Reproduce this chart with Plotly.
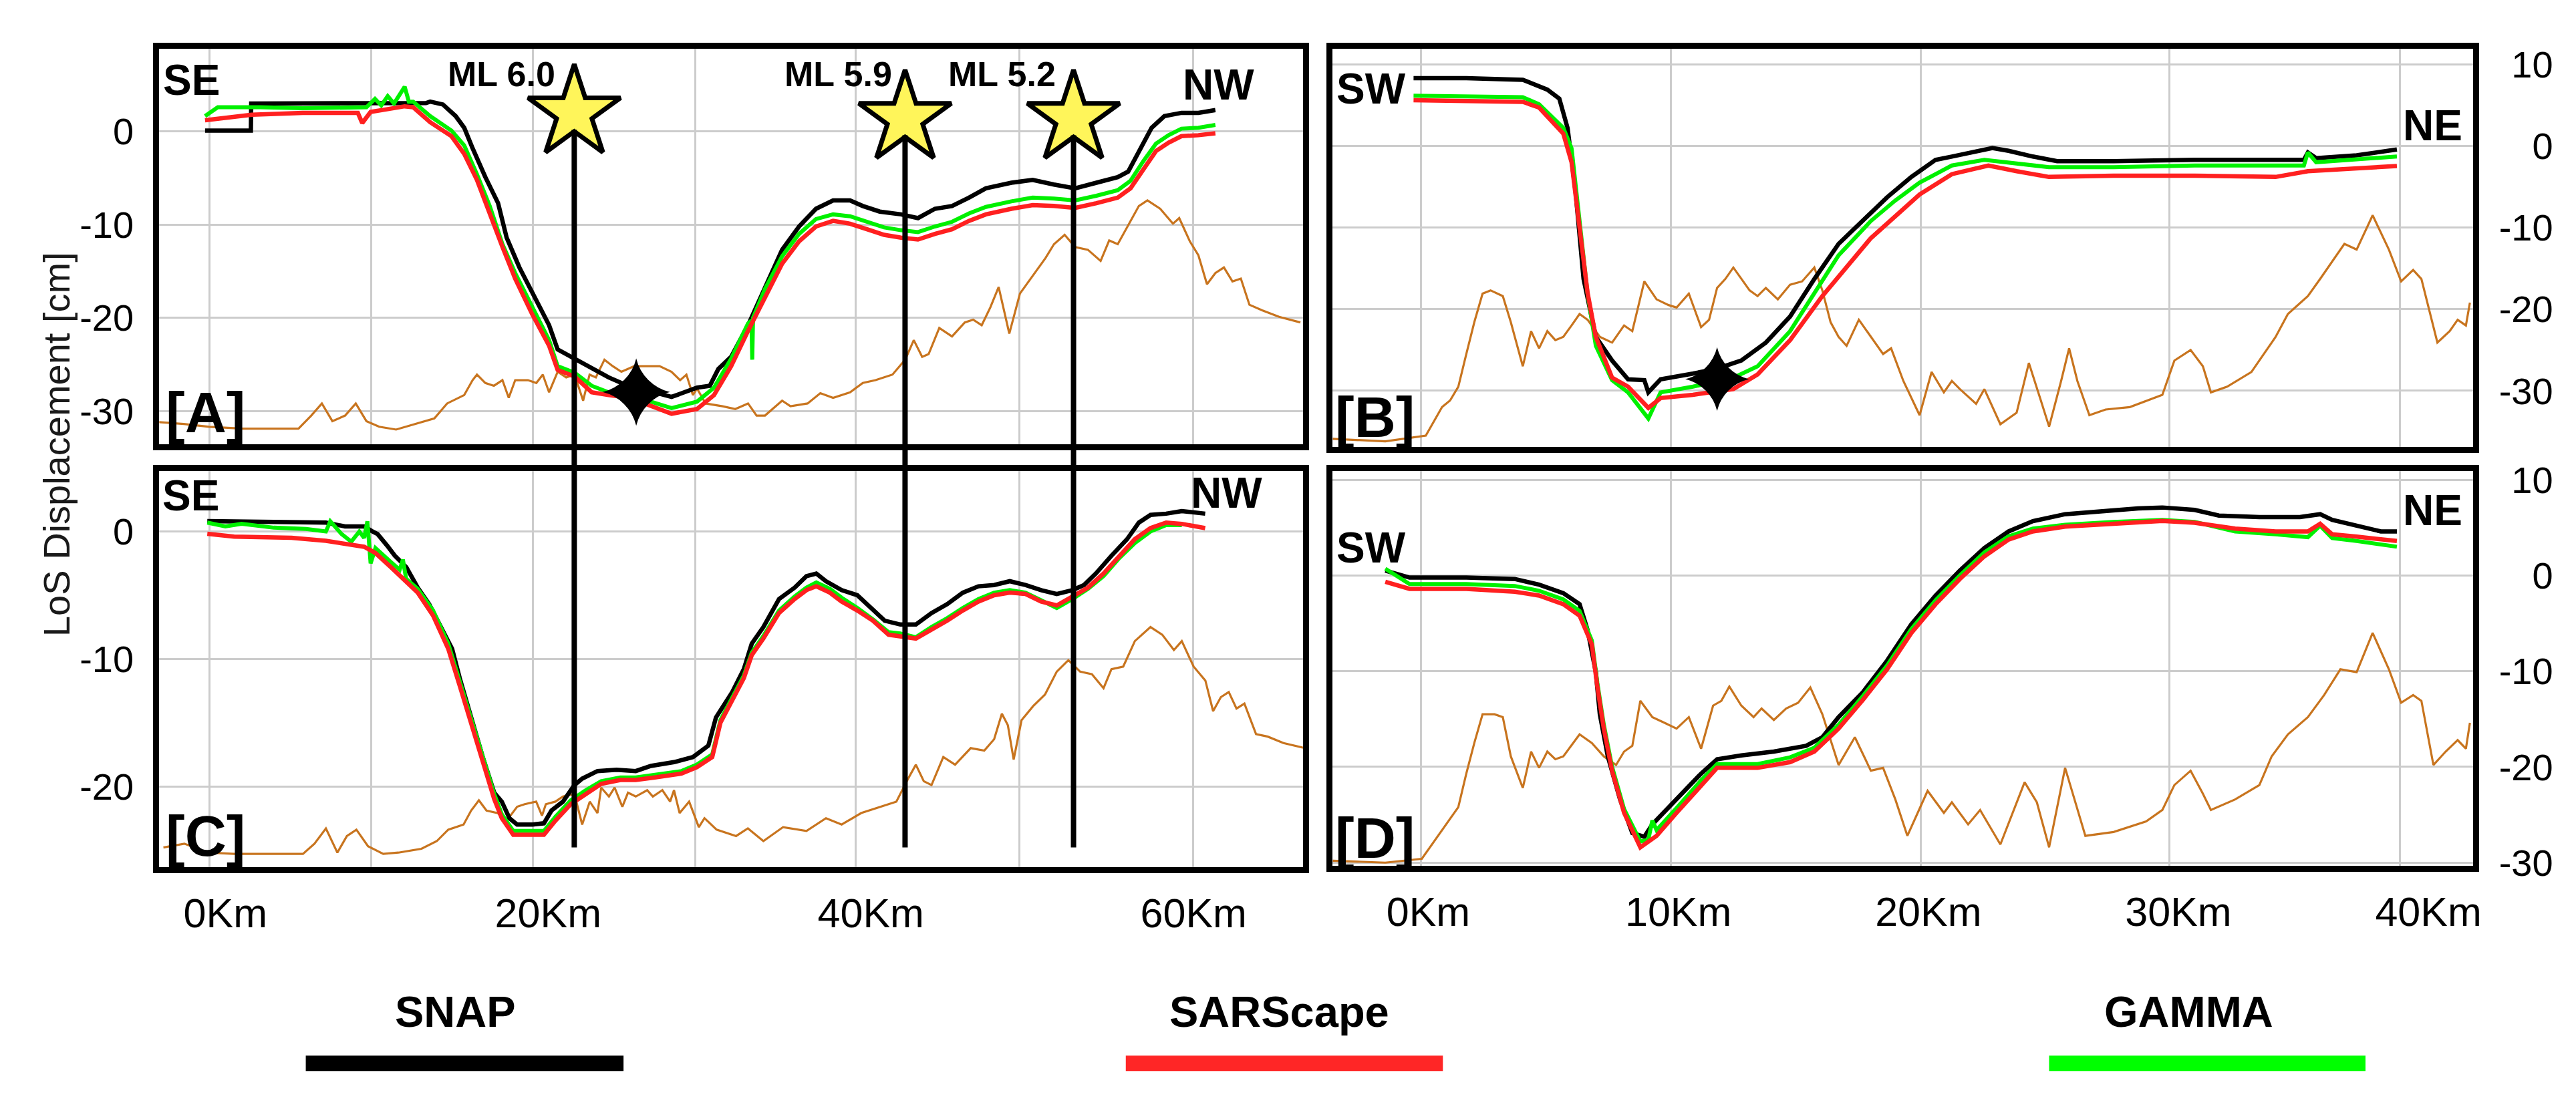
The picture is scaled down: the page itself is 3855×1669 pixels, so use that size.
import plotly.graph_objects as go

W, H = 3855, 1669
FONT = "Liberation Sans, Arial, sans-serif"

SERIES = ["SNAP", "SARScape", "GAMMA"]
SERIES_COLORS = ["#000000", "#ff2020", "#00f000"]
LEGEND_BAR_COLORS = ["#000000", "#ff2626", "#00ff00"]
TOPO_NAME = "Topography"
TOPO_COLOR = "#c8741e"
GRID_COLOR = "#cccccc"

# ---------------- Panel A (km, cm) ----------------
A_SNAP = [(-1.26, 0.1), (1.58, 0.1), (1.60, 3.0), (4.79, 3.0), (8.74, 3.0), (12.43, 3.05), (12.69, 3.2),
          (13.48, 2.9), (14.27, 1.65), (14.80, 0.4), (15.32, -1.8), (16.11, -4.9), (16.90, -7.7),
          (17.43, -11.4), (18.22, -14.6), (19.27, -18.0), (20.06, -20.8), (20.59, -23.4), (21.64, -24.4),
          (22.70, -25.5), (23.75, -26.4), (24.80, -27.2), (27.65, -28.5), (29.23, -27.5), (30.02, -27.3),
          (30.55, -25.5), (31.34, -24.2), (32.39, -20.8), (33.44, -16.7), (34.50, -12.7), (35.55, -10.2),
          (36.60, -8.3), (37.66, -7.4), (38.71, -7.4), (39.50, -8.0), (40.55, -8.6), (41.87, -8.9),
          (42.92, -9.3), (43.97, -8.3), (45.03, -8.0), (46.08, -7.1), (47.13, -6.1), (48.71, -5.5),
          (50.03, -5.2), (51.35, -5.7), (52.66, -6.1), (53.98, -5.5), (55.30, -4.9), (55.95, -4.3),
          (56.61, -2.1), (57.40, 0.4), (58.19, 1.65), (59.25, 2.0), (60.30, 2.0), (61.35, 2.3)]
A_SARSCAPE = [(-1.26, 1.2), (0.05, 1.5), (1.63, 1.8), (4.79, 2.0), (8.21, 2.0), (8.48, 0.9), (9.00, 2.1),
              (10.06, 2.4), (11.11, 2.7), (11.64, 2.6), (12.69, 1.0), (14.01, -0.5), (14.80, -2.4),
              (15.59, -5.2), (16.38, -8.9), (17.17, -12.4), (17.96, -15.8), (19.01, -19.6), (20.06, -23.0),
              (20.59, -25.6), (21.64, -26.3), (22.70, -28.0), (23.75, -28.3), (25.06, -28.6), (27.65, -30.3),
              (29.23, -29.8), (30.28, -28.3), (31.34, -25.2), (32.39, -21.4), (33.44, -17.7), (34.50, -14.2),
              (35.55, -11.8), (36.60, -10.2), (37.66, -9.6), (38.71, -9.9), (39.76, -10.5), (40.82, -11.1),
              (41.87, -11.4), (42.92, -11.6), (43.97, -11.0), (45.03, -10.5), (46.08, -9.6), (47.13, -8.9),
              (48.71, -8.3), (50.03, -7.9), (51.35, -8.0), (52.66, -8.2), (53.98, -7.7), (55.30, -7.1),
              (56.09, -6.1), (56.88, -4.0), (57.67, -2.1), (58.45, -1.2), (59.25, -0.5), (60.30, -0.4),
              (61.35, -0.2)]
A_GAMMA = [(-1.26, 1.65), (-0.47, 2.6), (2.16, 2.6), (4.79, 2.5), (8.74, 2.6), (9.27, 3.5), (9.66, 2.8),
           (10.06, 3.8), (10.45, 3.0), (11.11, 4.8), (11.37, 3.2), (11.64, 3.2), (12.69, 1.65), (14.01, 0.1),
           (14.80, -1.5), (15.59, -4.6), (16.38, -8.0), (17.17, -12.1), (17.96, -15.2), (19.01, -18.9),
           (20.06, -22.4), (20.59, -25.2), (21.64, -25.9), (22.70, -27.3), (23.75, -28.0), (25.06, -28.3),
           (27.65, -29.7), (29.23, -29.0), (30.28, -27.5), (31.34, -24.4), (32.39, -20.6), (32.60, -20.3),
           (32.65, -24.5), (32.70, -20.0), (33.44, -16.9), (34.50, -13.4), (35.55, -11.0), (36.60, -9.4),
           (37.66, -8.9), (38.71, -9.1), (39.76, -9.7), (40.82, -10.3), (41.87, -10.6), (42.92, -10.8),
           (43.97, -10.2), (45.03, -9.7), (46.08, -8.8), (47.13, -8.1), (48.71, -7.5), (50.03, -7.1),
           (51.35, -7.2), (52.66, -7.4), (53.98, -6.9), (55.30, -6.3), (56.09, -5.3), (56.88, -3.2),
           (57.67, -1.3), (58.45, -0.4), (59.25, 0.3), (60.30, 0.4), (61.35, 0.7)]
A_TOPO = [(-4.16, -31.2), (-2.58, -31.4), (-1.00, -31.7), (1.10, -31.9), (4.53, -31.9), (5.32, -30.5),
          (5.98, -29.2), (6.63, -31.1), (7.42, -30.5), (8.08, -29.2), (8.74, -31.1), (9.53, -31.7),
          (10.58, -32.0), (12.16, -31.2), (12.95, -30.8), (13.74, -29.2), (14.80, -28.3), (15.32, -26.7),
          (15.59, -26.1), (16.11, -27.0), (16.64, -27.3), (17.17, -26.7), (17.56, -28.6), (17.96, -26.7),
          (18.75, -26.7), (19.27, -27.0), (19.67, -26.1), (20.06, -28.0), (20.59, -25.8), (21.12, -26.4),
          (21.64, -26.1), (22.17, -28.9), (22.57, -26.1), (22.96, -26.4), (23.49, -24.5), (24.01, -25.2),
          (24.54, -25.8), (25.33, -25.2), (26.12, -25.2), (26.91, -25.2), (27.65, -25.8), (28.18, -26.7),
          (28.57, -26.1), (28.97, -28.3), (29.23, -27.6), (29.76, -29.2), (30.81, -29.5), (31.60, -29.8),
          (32.39, -29.2), (32.92, -30.5), (33.44, -30.5), (34.50, -28.9), (35.02, -29.5), (36.08, -29.2),
          (36.87, -28.1), (37.66, -28.6), (38.71, -28.0), (39.50, -27.0), (40.29, -26.7), (41.34, -26.1),
          (42.13, -24.5), (42.66, -22.4), (43.18, -24.2), (43.58, -23.9), (44.24, -21.1), (45.03, -22.0),
          (45.82, -20.5), (46.34, -20.2), (46.87, -20.8), (47.40, -18.9), (47.92, -16.7), (48.58, -21.7),
          (49.24, -17.4), (50.03, -15.5), (50.82, -13.6), (51.35, -12.1), (52.01, -11.1), (52.66, -12.4),
          (53.45, -12.7), (54.24, -13.9), (54.77, -11.7), (55.30, -12.1), (56.09, -9.6), (56.61, -8.0),
          (57.14, -7.4), (57.93, -8.3), (58.72, -9.9), (59.11, -9.3), (59.77, -11.8), (60.30, -13.3),
          (60.83, -16.4), (61.35, -15.2), (61.88, -14.6), (62.41, -16.1), (62.93, -15.8), (63.46, -18.6),
          (64.25, -19.2), (65.30, -19.9), (66.62, -20.5)]

# ---------------- Panel B ----------------
B_SNAP = [(-0.59, 8.3), (1.52, 8.3), (3.78, 8.1), (4.76, 6.9), (5.24, 5.8), (5.57, 2.2), (5.89, -5.6),
          (6.21, -16.3), (6.70, -23.4), (7.35, -26.3), (7.99, -28.6), (8.64, -28.7), (8.80, -30.2),
          (9.29, -28.6), (10.58, -27.9), (11.55, -27.3), (12.52, -26.3), (13.50, -24.1), (14.47, -20.9),
          (15.44, -16.3), (16.41, -12.0), (17.70, -8.1), (18.35, -6.3), (19.32, -3.8), (20.29, -1.7),
          (20.94, -1.3), (21.91, -0.6), (22.56, -0.26), (23.21, -0.6), (24.18, -1.3), (25.15, -1.86),
          (27.41, -1.86), (30.65, -1.7), (33.89, -1.7), (35.02, -1.7), (35.18, -0.8), (35.51, -1.5),
          (37.13, -1.15), (38.74, -0.43)]
B_SARSCAPE = [(-0.59, 5.6), (3.78, 5.4), (4.43, 4.7), (5.40, 1.5), (5.73, -2.0), (6.05, -9.9), (6.37, -18.0),
              (6.70, -23.4), (7.35, -28.4), (7.99, -29.5), (8.80, -32.1), (9.29, -30.9), (10.58, -30.5),
              (12.20, -29.8), (13.17, -28.0), (14.47, -23.8), (15.76, -18.4), (17.70, -11.3), (19.65, -5.95),
              (20.94, -3.46), (22.40, -2.4), (23.53, -3.1), (24.82, -3.8), (27.41, -3.64), (30.65, -3.64),
              (33.89, -3.8), (35.18, -3.1), (38.74, -2.46)]
B_GAMMA = [(-0.59, 6.15), (3.78, 5.97), (4.43, 5.1), (5.40, 2.2), (5.73, -0.3), (6.05, -9.2), (6.37, -18.1),
           (6.70, -24.5), (7.35, -28.7), (7.99, -30.2), (8.80, -33.4), (9.29, -30.2), (10.58, -29.5),
           (12.20, -28.4), (13.17, -27.0), (14.47, -22.7), (15.44, -18.1), (16.41, -13.4), (17.70, -9.2),
           (18.67, -6.7), (19.65, -4.5), (20.94, -2.4), (22.24, -1.7), (23.21, -2.0), (24.82, -2.6),
           (27.41, -2.6), (30.65, -2.4), (33.89, -2.4), (35.02, -2.4), (35.18, -0.8), (35.51, -2.0),
           (38.74, -1.3)]
B_TOPO = [(-3.82, -35.9), (-1.72, -36.2), (-0.10, -35.5), (0.55, -32.0), (0.87, -31.2), (1.20, -29.5),
          (1.52, -25.5), (1.84, -21.6), (2.17, -18.1), (2.49, -17.7), (2.98, -18.4), (3.30, -21.6),
          (3.78, -27.0), (4.11, -22.7), (4.43, -24.8), (4.76, -22.7), (5.08, -23.8), (5.40, -23.4),
          (5.73, -22.0), (6.05, -20.6), (6.37, -21.3), (6.86, -23.4), (7.35, -24.1), (7.83, -22.0),
          (8.16, -22.7), (8.64, -16.6), (9.13, -18.8), (9.61, -19.5), (9.93, -19.8), (10.42, -18.1),
          (10.91, -22.2), (11.23, -21.3), (11.55, -17.4), (11.88, -16.3), (12.20, -14.9), (12.52, -16.3),
          (12.85, -17.7), (13.17, -18.4), (13.50, -17.4), (13.98, -18.8), (14.47, -17.0), (14.95, -16.6),
          (15.44, -14.9), (15.76, -17.7), (16.09, -21.6), (16.41, -23.4), (16.73, -24.5), (17.22, -21.3),
          (17.70, -23.4), (18.19, -25.5), (18.51, -24.8), (19.00, -28.8), (19.65, -33.0), (20.13, -27.7),
          (20.62, -30.2), (20.94, -28.8), (21.26, -29.8), (21.91, -31.6), (22.24, -29.8), (22.88, -34.1),
          (23.53, -32.7), (24.02, -26.6), (24.50, -31.2), (24.83, -34.4), (25.31, -28.8), (25.63, -24.8),
          (25.96, -28.8), (26.44, -33.0), (27.09, -32.3), (28.06, -32.0), (29.36, -30.5), (29.84, -26.3),
          (30.49, -25.0), (30.98, -27.0), (31.30, -30.2), (31.95, -29.5), (32.92, -27.7), (33.56, -24.8),
          (33.89, -23.4), (34.38, -20.6), (35.18, -18.4), (35.67, -16.3), (36.15, -14.2), (36.64, -12.0),
          (37.13, -12.7), (37.77, -8.5), (38.42, -12.7), (38.91, -16.6), (39.39, -15.2), (39.72, -16.3),
          (40.36, -24.1), (40.85, -22.7), (41.17, -21.3), (41.50, -22.0), (41.66, -19.2)]

# ---------------- Panel C ----------------
C_SNAP = [(-1.12, 0.82), (0.54, 0.8), (2.67, 0.7), (6.23, 0.7), (7.41, 0.4), (8.60, 0.4), (9.07, 0.04),
          (9.43, -0.2), (10.02, -1.1), (10.50, -1.9), (11.21, -2.8), (11.92, -4.4), (12.63, -5.7),
          (13.34, -7.5), (14.05, -9.2), (14.52, -11.5), (15.23, -14.6), (15.95, -17.7), (16.66, -20.5),
          (17.13, -21.2), (17.60, -22.5), (18.08, -23.0), (19.03, -23.0), (19.74, -22.9), (20.21, -21.9),
          (20.92, -21.2), (21.63, -19.9), (22.11, -19.4), (23.06, -18.8), (24.24, -18.7), (25.43, -18.8),
          (26.37, -18.4), (27.80, -18.1), (28.98, -17.7), (29.93, -16.8), (30.40, -14.6), (31.41, -12.6),
          (32.13, -10.8), (32.62, -8.8), (33.34, -7.5), (34.31, -5.3), (35.28, -4.4), (36.01, -3.5),
          (36.62, -3.3), (37.22, -3.9), (38.19, -4.6), (39.16, -5.0), (39.89, -5.9), (40.86, -7.0),
          (41.83, -7.3), (42.79, -7.3), (43.76, -6.4), (44.73, -5.7), (45.70, -4.8), (46.67, -4.3),
          (47.64, -4.2), (48.61, -3.9), (49.58, -4.2), (50.55, -4.6), (51.52, -4.9), (52.49, -4.6),
          (53.21, -4.2), (53.94, -3.3), (54.91, -1.9), (55.88, -0.6), (56.61, 0.7), (57.33, 1.3),
          (58.30, 1.4), (59.27, 1.6), (60.72, 1.4)]
C_SARSCAPE = [(-1.12, -0.18), (0.54, -0.4), (4.10, -0.5), (6.23, -0.73), (8.60, -1.2), (9.31, -1.7),
              (10.26, -2.8), (11.21, -3.9), (11.92, -4.8), (12.87, -6.6), (13.81, -9.2), (14.52, -12.1),
              (15.23, -15.0), (15.95, -18.1), (16.66, -21.0), (17.13, -22.5), (17.84, -23.8), (19.74, -23.8),
              (20.45, -22.7), (21.40, -21.4), (22.34, -20.6), (23.29, -19.8), (24.48, -19.5), (25.43, -19.5),
              (26.61, -19.3), (28.27, -19.0), (29.22, -18.5), (30.17, -17.7), (30.68, -15.0), (31.41, -13.2),
              (32.13, -11.5), (32.62, -9.7), (33.34, -8.4), (34.31, -6.4), (35.28, -5.3), (36.01, -4.6),
              (36.62, -4.3), (37.46, -4.8), (38.19, -5.5), (39.16, -6.2), (40.13, -7.0), (41.10, -8.1),
              (41.83, -8.2), (42.79, -8.4), (43.76, -7.7), (44.73, -7.0), (45.70, -6.2), (46.67, -5.5),
              (47.64, -5.0), (48.61, -4.8), (49.58, -4.9), (50.55, -5.5), (51.52, -5.8), (52.49, -5.1),
              (53.46, -4.4), (54.42, -3.3), (55.39, -1.9), (56.36, -0.6), (57.33, 0.27), (58.30, 0.7),
              (59.27, 0.6), (60.72, 0.27)]
C_GAMMA = [(-1.12, 0.7), (0.0, 0.4), (1.0, 0.6), (3.0, 0.3), (5.0, 0.2), (6.23, 0.0), (6.5, 0.8), (7.2, -0.2),
           (7.8, -0.8), (8.3, 0.0), (8.6, -0.5), (8.8, 0.8), (9.0, -2.5), (9.3, -1.3), (10.26, -2.4),
           (10.8, -3.0), (11.0, -2.2), (11.2, -3.7), (11.92, -4.5), (12.87, -6.2), (13.81, -8.8),
           (14.52, -11.7), (15.23, -14.7), (15.95, -17.8), (16.66, -20.6), (17.13, -22.2), (17.84, -23.5),
           (19.74, -23.5), (20.45, -22.4), (21.40, -21.1), (22.34, -20.3), (23.29, -19.6), (24.48, -19.3),
           (25.43, -19.3), (26.61, -19.1), (28.27, -18.8), (29.22, -18.3), (30.17, -17.5), (30.68, -14.8),
           (31.41, -13.0), (32.13, -11.3), (32.62, -9.5), (33.34, -8.2), (34.31, -6.2), (35.28, -5.1),
           (36.01, -4.4), (36.62, -4.0), (37.46, -4.5), (38.19, -5.2), (39.16, -6.0), (40.13, -6.9),
           (41.10, -7.9), (41.83, -8.0), (42.79, -8.3), (43.76, -7.5), (44.73, -6.8), (45.70, -6.0),
           (46.67, -5.3), (47.64, -4.8), (48.61, -4.6), (49.58, -4.8), (50.55, -5.4), (51.52, -6.0),
           (52.49, -5.3), (53.46, -4.5), (54.42, -3.5), (55.39, -2.1), (56.36, -0.9), (57.33, 0.0),
           (58.30, 0.5), (59.27, 0.5)]
C_TOPO = [(-3.84, -24.8), (-2.54, -24.5), (-1.12, -25.2), (0.54, -25.3), (4.81, -25.3), (5.52, -24.5),
          (6.23, -23.3), (6.94, -25.2), (7.53, -23.9), (8.12, -23.4), (8.84, -24.7), (9.78, -25.3),
          (10.73, -25.2), (12.15, -24.9), (13.10, -24.3), (13.81, -23.4), (14.76, -23.0), (15.23, -21.9),
          (15.71, -21.1), (16.18, -21.9), (16.89, -22.1), (17.37, -22.8), (18.08, -21.6), (18.55, -21.4),
          (19.26, -21.2), (19.62, -22.3), (19.86, -21.4), (20.45, -21.2), (20.92, -20.8), (21.63, -20.6),
          (22.11, -23.0), (22.58, -21.2), (23.06, -22.1), (23.29, -20.1), (23.77, -20.8), (24.12, -20.1),
          (24.60, -21.6), (24.95, -20.5), (25.43, -20.8), (26.14, -20.3), (26.49, -20.8), (27.08, -20.3),
          (27.56, -21.2), (27.80, -20.3), (28.15, -22.1), (28.74, -21.2), (29.34, -23.2), (29.69, -22.5),
          (30.44, -23.4), (31.65, -23.9), (32.38, -23.3), (33.34, -24.3), (34.56, -23.2), (36.01, -23.5),
          (37.22, -22.5), (38.19, -23.0), (39.40, -22.1), (40.61, -21.6), (41.58, -21.2), (42.31, -19.4),
          (42.79, -18.3), (43.28, -19.6), (43.76, -19.9), (44.49, -17.7), (45.22, -18.3), (46.19, -17.0),
          (47.03, -17.2), (47.64, -16.3), (48.12, -14.3), (48.49, -15.2), (48.85, -17.9), (49.34, -14.8),
          (50.06, -13.7), (50.79, -12.8), (51.52, -11.0), (52.24, -10.1), (52.97, -11.0), (53.70, -11.2),
          (54.42, -12.3), (54.91, -10.8), (55.64, -10.6), (56.36, -8.6), (57.33, -7.5), (58.06, -8.1),
          (58.78, -9.3), (59.27, -8.6), (60.00, -10.6), (60.73, -11.7), (61.21, -14.1), (61.69, -13.0),
          (62.18, -12.6), (62.66, -13.9), (63.15, -13.5), (63.87, -15.9), (64.60, -16.1), (65.57, -16.6),
          (66.90, -17.0)]

# ---------------- Panel D ----------------
D_SNAP = [(-1.72, 0.51), (-0.75, -0.22), (1.52, -0.22), (3.46, -0.37), (4.43, -0.96), (5.40, -1.85),
          (6.05, -3.0), (6.37, -5.7), (6.70, -10.1), (6.86, -14.5), (7.18, -18.9), (7.67, -23.4),
          (8.16, -26.9), (8.64, -27.3), (8.96, -26.0), (9.93, -23.4), (10.91, -20.7), (11.55, -19.2),
          (12.52, -18.8), (13.82, -18.4), (15.11, -17.8), (15.76, -16.9), (16.41, -14.8), (17.38, -12.2),
          (18.35, -8.9), (19.32, -5.1), (20.29, -2.1), (21.26, 0.5), (22.24, 2.87), (23.21, 4.6),
          (24.18, 5.67), (25.47, 6.4), (26.77, 6.7), (28.39, 7.0), (29.36, 7.1), (30.65, 6.85),
          (31.62, 6.26), (33.24, 6.1), (34.86, 6.1), (35.67, 6.4), (36.15, 5.8), (37.13, 5.2),
          (38.10, 4.6), (38.74, 4.6)]
D_SARSCAPE = [(-1.72, -0.67), (-0.75, -1.4), (1.52, -1.4), (3.46, -1.7), (4.43, -2.1), (5.40, -3.0),
              (6.05, -4.2), (6.54, -7.2), (6.76, -11.6), (7.02, -16.0), (7.35, -20.4), (7.83, -24.8),
              (8.48, -28.4), (9.13, -27.2), (9.93, -24.8), (10.91, -21.9), (11.55, -20.1), (13.17, -20.1),
              (14.47, -19.5), (15.44, -18.4), (16.41, -16.0), (17.38, -13.0), (18.35, -9.8), (19.32, -6.0),
              (20.29, -3.0), (21.26, -0.37), (22.24, 2.0), (23.21, 3.75), (24.18, 4.6), (25.47, 5.1),
              (27.41, 5.4), (29.36, 5.7), (30.65, 5.5), (32.27, 4.9), (33.89, 4.6), (35.18, 4.6),
              (35.67, 5.4), (36.15, 4.3), (37.13, 4.05), (38.74, 3.6)]
D_GAMMA = [(-1.72, 0.7), (-0.75, -0.9), (1.52, -0.9), (3.46, -1.1), (4.43, -1.6), (5.40, -2.5), (6.05, -3.7),
           (6.54, -6.8), (6.76, -11.2), (7.02, -15.6), (7.35, -20.0), (7.83, -24.4), (8.48, -27.8),
           (8.80, -27.6), (8.96, -25.6), (9.13, -26.6), (9.93, -24.3), (10.91, -21.4), (11.55, -19.7),
           (13.17, -19.7), (14.47, -19.0), (15.44, -18.0), (16.41, -15.6), (17.38, -12.6), (18.35, -9.4),
           (19.32, -5.6), (20.29, -2.6), (21.26, 0.0), (22.24, 2.4), (23.21, 4.1), (24.18, 4.9), (25.47, 5.3),
           (27.41, 5.6), (29.36, 5.8), (30.65, 5.6), (32.27, 4.6), (33.89, 4.3), (35.18, 4.0), (35.67, 5.2),
           (36.15, 3.9), (37.13, 3.6), (38.74, 3.0)]
D_TOPO = [(-3.82, -29.8), (-1.72, -30.0), (-0.26, -29.6), (0.22, -27.8), (0.71, -26.0), (1.20, -24.2),
          (1.52, -20.7), (1.84, -17.5), (2.17, -14.5), (2.65, -14.5), (2.98, -14.8), (3.30, -18.9),
          (3.78, -22.2), (4.11, -18.4), (4.43, -20.1), (4.76, -18.4), (5.08, -19.2), (5.40, -18.9),
          (6.05, -16.6), (6.54, -17.5), (7.02, -18.9), (7.51, -19.8), (7.83, -18.4), (8.16, -17.8),
          (8.48, -13.1), (8.96, -14.8), (9.45, -15.4), (9.93, -16.0), (10.42, -14.8), (10.91, -18.1),
          (11.39, -13.6), (11.72, -13.1), (12.04, -11.6), (12.52, -13.6), (13.01, -14.8), (13.33, -13.9),
          (13.82, -15.1), (14.31, -13.9), (14.79, -13.3), (15.28, -11.7), (15.76, -14.5), (16.41, -19.8),
          (17.06, -16.9), (17.70, -20.4), (18.19, -20.1), (18.68, -23.4), (19.16, -27.2), (19.97, -22.5),
          (20.62, -24.8), (20.94, -23.7), (21.59, -26.0), (22.07, -24.5), (22.88, -28.1), (23.85, -21.6),
          (24.34, -23.7), (24.83, -28.4), (25.47, -20.1), (26.28, -27.2), (27.41, -26.8), (28.71, -25.7),
          (29.36, -24.5), (29.84, -21.9), (30.49, -20.4), (30.98, -22.8), (31.30, -24.5), (32.27, -23.4),
          (33.24, -21.9), (33.73, -18.9), (34.38, -16.6), (35.18, -14.8), (35.83, -12.5), (36.48, -9.8),
          (37.13, -10.1), (37.77, -6.0), (38.42, -9.8), (38.91, -13.3), (39.39, -12.5), (39.72, -13.1),
          (40.20, -19.8), (40.69, -18.4), (41.17, -17.2), (41.50, -18.1), (41.66, -15.4)]

# Earthquakes (panel A/C profile, km) and markers
QUAKE_LABELS = ["ML 6.0", "ML 5.9", "ML 5.2"]
QUAKE_KM = [21.62, 42.12, 52.56]
QUAKE_STAR_CM = [2.0, 1.4, 1.4]
QUAKE_LINE_END_CM = -24.8          # lower end of the epicentre lines in panel C
QUAKE_LABEL_KM = [17.12, 37.97, 48.13]
QUAKE_LABEL_CM = [6.17, 6.17, 6.17]
A_MAX_POINT = (25.46, -27.97)
B_MAX_POINT = (11.55, -28.57)

# Axis ticks
AC_TICK_KM = [0, 20, 40, 60]
AC_TICK_TEXT = ["0Km", "20Km", "40Km", "60Km"]
AC_GRID_KM = [-1.0, 9.05, 19.05, 29.1, 39.05, 49.2, 59.95]
BD_TICK_KM = [0, 10, 20, 30, 40]
BD_TICK_TEXT = ["0Km", "10Km", "20Km", "30Km", "40Km"]
BD_GRID_KM = [-0.3, 9.7, 19.7, 29.65, 38.85]
A_YTICKS = [0, -10, -20, -30]
A_YTEXT = ["0", "-10", "-20", "-30"]
C_YTICKS = [0, -10, -20]
C_YTEXT = ["0", "-10", "-20"]
BD_YTICKS = [10, 0, -10, -20, -30]
BD_YTEXT = ["\u200410", "\u2004\u20070", "-10", "-20", "-30"]

# ---------------- Layout geometry (pixels of the 3855x1669 page) ----------------
def px_dom_x(a, b):
    return [a / W, b / W]

def px_dom_y(top, bottom):
    return [1 - bottom / H, 1 - top / H]

DOM = {
    "A": (px_dom_x(231, 1948), px_dom_y(48, 657)),
    "B": (px_dom_x(1992, 3705), px_dom_y(48, 661)),
    "C": (px_dom_x(231, 1948), px_dom_y(698, 1307)),
    "D": (px_dom_x(1992, 3705), px_dom_y(698, 1305)),
}
XR_AC = [-4.10, 66.78]
XR_BD = [-3.84, 41.80]
YR = {"A": [-33.6, 8.9], "B": [-36.9, 11.93], "C": [-26.33, 4.74], "D": [-30.32, 10.90]}

fig = go.Figure()

def add_panel(xa, ya, snap, sars, gamma, topo):
    fig.add_trace(go.Scatter(x=[p[0] for p in topo], y=[p[1] for p in topo], mode="lines",
                             name=TOPO_NAME, line=dict(color=TOPO_COLOR, width=3.2),
                             xaxis=xa, yaxis=ya, showlegend=False))
    for data, name, color, w in ((snap, SERIES[0], SERIES_COLORS[0], 6.5),
                                 (gamma, SERIES[2], SERIES_COLORS[2], 6),
                                 (sars, SERIES[1], SERIES_COLORS[1], 6.5)):
        fig.add_trace(go.Scatter(x=[p[0] for p in data], y=[p[1] for p in data], mode="lines",
                                 name=name, line=dict(color=color, width=w),
                                 xaxis=xa, yaxis=ya, showlegend=False))

add_panel("x", "y", A_SNAP, A_SARSCAPE, A_GAMMA, A_TOPO)
add_panel("x2", "y2", B_SNAP, B_SARSCAPE, B_GAMMA, B_TOPO)
add_panel("x3", "y3", C_SNAP, C_SARSCAPE, C_GAMMA, C_TOPO)
add_panel("x4", "y4", D_SNAP, D_SARSCAPE, D_GAMMA, D_TOPO)

# maximum-displacement markers
fig.add_trace(go.Scatter(x=[A_MAX_POINT[0]], y=[A_MAX_POINT[1]], mode="markers", xaxis="x", yaxis="y",
                         marker=dict(symbol="star-diamond", size=72, color="black"), showlegend=False))
fig.add_trace(go.Scatter(x=[B_MAX_POINT[0]], y=[B_MAX_POINT[1]], mode="markers", xaxis="x2", yaxis="y2",
                         marker=dict(symbol="star-diamond", size=68, color="black"), showlegend=False))
# epicentre stars
fig.add_trace(go.Scatter(x=QUAKE_KM, y=QUAKE_STAR_CM, mode="markers", xaxis="x", yaxis="y",
                         marker=dict(symbol="star", size=104, color="#fff55a",
                                     line=dict(color="black", width=7)),
                         cliponaxis=False, showlegend=False))

def to_paper_y(val, panel):
    r0, r1 = YR[panel]
    d0, d1 = DOM[panel][1]
    return d0 + (val - r0) / (r1 - r0) * (d1 - d0)

shapes = []
for km, cm in zip(QUAKE_KM, QUAKE_STAR_CM):
    shapes.append(dict(type="line", xref="x", yref="paper", x0=km, x1=km,
                       y0=to_paper_y(QUAKE_LINE_END_CM, "C"), y1=to_paper_y(cm, "A") - 26 / H,
                       line=dict(color="black", width=8), layer="above"))

annotations = []
for txt, km, cm in zip(QUAKE_LABELS, QUAKE_LABEL_KM, QUAKE_LABEL_CM):
    annotations.append(dict(text=f"<b>{txt}</b>", x=km, y=cm, xref="x", yref="y", showarrow=False,
                            font=dict(size=52, family=FONT, color="black")))

def px_text(txt, cx, cy, size, bold=True, **kw):
    t = f"<b>{txt}</b>" if bold else txt
    annotations.append(dict(text=t, x=cx / W, y=1 - cy / H, xref="paper", yref="paper", showarrow=False,
                            xanchor="center", yanchor="middle",
                            font=dict(size=size, family=FONT, color=kw.pop("color", "black")), **kw))

# direction labels
for txt, cx, cy in (("SE", 279, 97), ("NW", 1821, 104), ("SE", 278, 736), ("NW", 1833, 732),
                    ("SW", 2050, 110), ("NE", 3644, 167), ("SW", 2050, 816), ("NE", 3644, 758)):
    px_text(txt, cx, cy, 64)
# panel letters
for txt, cx, cy in (("[A]", 300, 607), ("[B]", 2056, 615), ("[C]", 300, 1259), ("[D]", 2056, 1262)):
    px_text(txt, cx, cy, 86)
# y-axis title
px_text("LoS Displacement [cm]", 77, 657, 56, bold=False, textangle=-90, color="#1a1a1a")

# legend below the panels
LEG_TEXT_X = [676, 1912, 3278]
LEG_BAR_X = [(451, 928), (1682, 2158), (3068, 3543)]
for name, color, tx, (b0, b1) in zip(SERIES, LEGEND_BAR_COLORS, LEG_TEXT_X, LEG_BAR_X):
    px_text(name, tx, 1530, 65)
    shapes.append(dict(type="rect", xref="paper", yref="paper", x0=b0 / W, x1=b1 / W,
                       y0=1 - 1621 / H, y1=1 - 1597 / H, fillcolor=color, line=dict(width=0)))

def xaxis(panel, rng, tickvals, ticktext, grid, labels):
    return dict(domain=DOM[panel][0], range=rng, anchor={"A": "y", "B": "y2", "C": "y3", "D": "y4"}[panel],
                tickmode="array", tickvals=tickvals, ticktext=ticktext, showticklabels=labels,
                showgrid=False, zeroline=False, showline=True, linecolor="black", linewidth=9, mirror=True,
                ticks="", ticklabelstandoff=8,
                tickfont=dict(size=61, family=FONT, color="black"),
                minor=dict(tickmode="array", tickvals=grid, showgrid=True, gridcolor=GRID_COLOR, gridwidth=3,
                           ticks=""))

def yaxis(panel, side, tickvals, ticktext):
    return dict(domain=DOM[panel][1], range=YR[panel],
                anchor={"A": "x", "B": "x2", "C": "x3", "D": "x4"}[panel], side=side,
                tickmode="array", tickvals=tickvals, ticktext=ticktext,
                showgrid=True, gridcolor=GRID_COLOR, gridwidth=3, zeroline=False,
                showline=True, linecolor="black", linewidth=9, mirror=True, ticks="",
                ticklabelstandoff=18, tickfont=dict(size=56, family=FONT, color="black"))

fig.update_layout(
    width=W, height=H, margin=dict(l=0, r=0, t=0, b=0),
    paper_bgcolor="white", plot_bgcolor="white", showlegend=False,
    font=dict(family=FONT, color="black"),
    xaxis=xaxis("A", XR_AC, AC_TICK_KM, AC_TICK_TEXT, AC_GRID_KM, False),
    xaxis2=xaxis("B", XR_BD, BD_TICK_KM, BD_TICK_TEXT, BD_GRID_KM, False),
    xaxis3=xaxis("C", XR_AC, AC_TICK_KM, AC_TICK_TEXT, AC_GRID_KM, True),
    xaxis4=xaxis("D", XR_BD, BD_TICK_KM, BD_TICK_TEXT, BD_GRID_KM, True),
    yaxis=yaxis("A", "left", A_YTICKS, A_YTEXT),
    yaxis2=yaxis("B", "right", BD_YTICKS, BD_YTEXT),
    yaxis3=yaxis("C", "left", C_YTICKS, C_YTEXT),
    yaxis4=yaxis("D", "right", BD_YTICKS, BD_YTEXT),
    shapes=shapes, annotations=annotations,
)

fig.write_html("out.html")
